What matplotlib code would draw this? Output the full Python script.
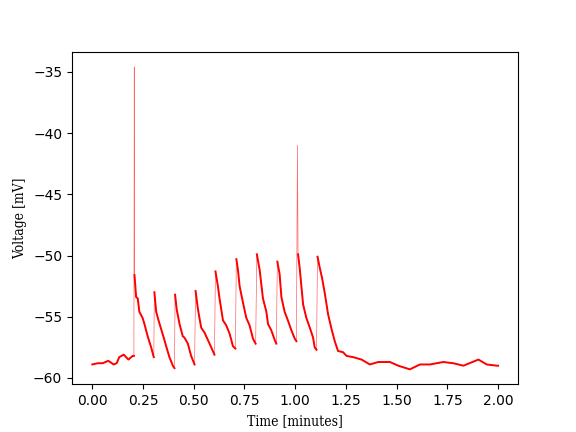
import numpy as np
import matplotlib
matplotlib.use("Agg")
import matplotlib.pyplot as plt

# Time in minutes, membrane voltage in mV
time_min = [
    0.000, 0.026, 0.051, 0.079, 0.105, 0.120, 0.133, 0.155, 0.178, 0.199, 0.205,
    0.207, 0.208, 0.216, 0.224, 0.232, 0.248, 0.257, 0.273, 0.290, 0.303,
    0.306, 0.315, 0.323, 0.339, 0.352, 0.364, 0.380, 0.397, 0.405,
    0.408, 0.416, 0.430, 0.446, 0.454, 0.471, 0.487, 0.504,
    0.509, 0.520, 0.528, 0.537, 0.553, 0.578, 0.594, 0.602,
    0.607, 0.619, 0.627, 0.644, 0.660, 0.677, 0.693, 0.705,
    0.710, 0.718, 0.726, 0.742, 0.759, 0.775, 0.792, 0.805,
    0.811, 0.825, 0.841, 0.858, 0.866, 0.882, 0.899, 0.907,
    0.912, 0.923, 0.932, 0.948, 0.964, 0.981, 0.998, 1.006,
    1.011, 1.014, 1.022, 1.031, 1.039, 1.055, 1.072, 1.088, 1.096, 1.105,
    1.110, 1.121, 1.132, 1.146, 1.162, 1.179, 1.195, 1.211, 1.236, 1.253,
    1.285, 1.327, 1.368, 1.409, 1.467, 1.508, 1.565, 1.615, 1.664, 1.730,
    1.779, 1.829, 1.903, 1.944, 1.994, 2.000,
]
voltage_mv = [
    -58.9, -58.8, -58.8, -58.6, -58.9, -58.8, -58.3, -58.1, -58.5, -58.2, -58.2,
    -34.6, -51.6, -53.4, -53.5, -54.6, -55.1, -55.6, -56.6, -57.5, -58.3,
    -53.0, -54.6, -55.1, -56.0, -56.7, -57.4, -58.3, -59.0, -59.2,
    -53.2, -54.4, -55.6, -56.6, -56.7, -57.2, -58.2, -58.9,
    -52.9, -54.3, -55.1, -55.9, -56.3, -57.2, -57.8, -58.1,
    -51.3, -52.5, -53.5, -55.3, -55.7, -56.4, -57.4, -57.6,
    -50.3, -51.2, -52.5, -53.8, -55.1, -55.7, -56.8, -57.2,
    -49.9, -51.2, -53.5, -54.6, -55.6, -56.1, -56.9, -57.2,
    -50.5, -51.5, -53.4, -54.6, -55.3, -56.1, -56.8, -57.0,
    -41.0, -49.9, -51.0, -52.6, -54.0, -55.1, -55.9, -56.7, -57.5, -57.7,
    -50.1, -51.0, -51.8, -53.1, -54.8, -56.0, -57.0, -57.8, -57.9, -58.2,
    -58.3, -58.5, -58.9, -58.7, -58.7, -59.0, -59.3, -58.9, -58.9, -58.7,
    -58.8, -59.0, -58.5, -58.9, -59.0, -59.0,
]

t = np.array(time_min)
v = np.array(voltage_mv)

fig, ax = plt.subplots(figsize=(5.76, 4.32), dpi=100)

# thin line for the whole trace (rises appear as faint thin strokes)
ax.plot(t, v, color="red", lw=0.5, alpha=0.6)

# thicker line for the noisy decay portions, broken at each fast rise
jumps = np.where(np.diff(v) > 3)[0]
starts = np.concatenate(([0], jumps + 1))
ends = np.concatenate((jumps + 1, [len(v)]))
for s, e in zip(starts, ends):
    seg_t = t[s:e]
    seg_v = v[s:e]
    mask = seg_v < -45
    ax.plot(seg_t[mask], seg_v[mask], color="red", lw=1.4)

lab_font = dict(family="DejaVu Serif", stretch="condensed")
ax.set_xlabel("Time [minutes]", **lab_font)
ax.set_ylabel("Voltage [mV]", **lab_font)

fig.savefig("out.png", dpi=100)
